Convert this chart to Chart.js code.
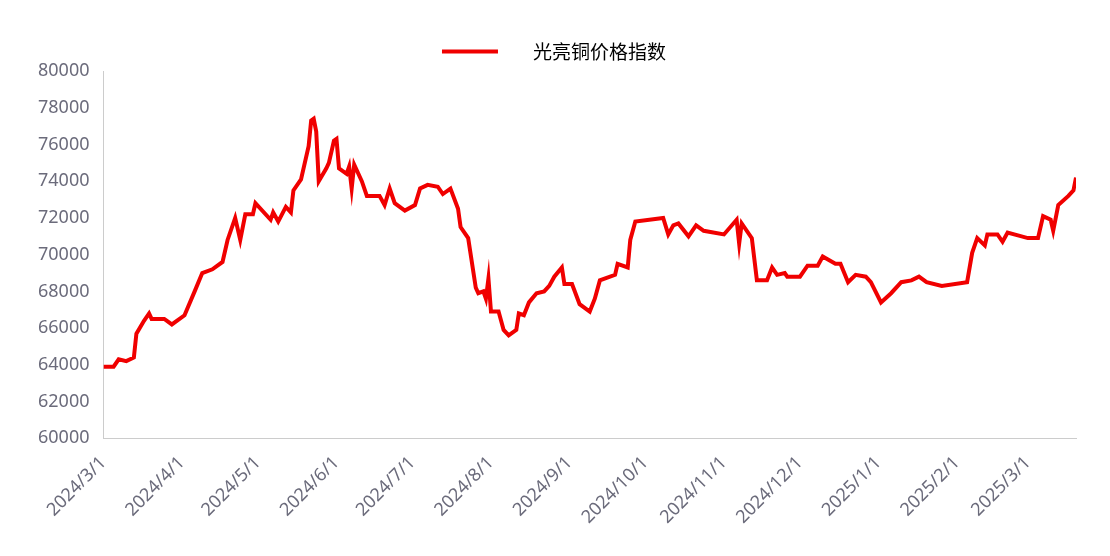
<!DOCTYPE html>
<html><head><meta charset="utf-8">
<script src="https://cdn.jsdelivr.net/npm/chart.js@4"></script>
<style>html,body{margin:0;background:#fff}#w{width:1110px;height:556px}</style>
</head><body><div id="w"><canvas id="c"></canvas></div>
<script>
const seriesName = "光亮铜价格指数";
const days = [0,4,6,9,12,13,16,18,19,24,27,32,36,39,43,47,49,52,54,56,59,60,66,67,69,72,74,75,78,81,82,83,84,85,88,89,91,92,93,96,97,98,99,102,104,109,111,113,115,119,123,125,128,132,134,137,140,141,144,147,148,150,151,152,153,156,158,160,163,164,166,168,171,174,176,178,181,182,185,188,192,194,196,202,203,207,208,210,221,223,225,227,231,234,237,245,250,251,252,256,258,262,264,266,269,270,275,278,282,284,289,291,294,297,301,303,307,311,315,319,322,325,331,341,343,345,348,349,353,355,357,365,369,371,374,375,377,381,383,384];
const values = [63900,63900,64300,64200,64400,65700,66400,66800,66500,66500,66200,66700,68000,69000,69200,69600,70800,72000,70800,72200,72200,72800,71900,72300,71800,72600,72300,73500,74100,75900,77300,77400,76700,74000,74700,75000,76200,76300,74700,74400,74800,73600,74900,74000,73200,73200,72700,73600,72800,72400,72700,73600,73800,73700,73300,73600,72500,71500,70900,68200,67900,68000,67600,68700,66900,66900,65900,65600,65900,66800,66700,67400,67900,68000,68300,68800,69300,68400,68400,67300,66900,67600,68600,68900,69500,69300,70800,71800,72000,71100,71600,71700,71000,71600,71300,71100,71900,70600,71700,70900,68600,68600,69300,68900,69000,68800,68800,69400,69400,69900,69500,69500,68500,68900,68800,68500,67400,67900,68500,68600,68800,68500,68300,68500,70100,70900,70500,71100,71100,70700,71200,70900,70900,72100,71900,71300,72700,73200,73500,74200];
const monthTicks = [0,31,61,92,122,153,184,214,245,275,306,337,365];
const monthLabels = ["2024/3/1","2024/4/1","2024/5/1","2024/6/1","2024/7/1","2024/8/1","2024/9/1","2024/10/1","2024/11/1","2024/12/1","2025/1/1","2025/2/1","2025/3/1"];
const yMin = 60000, yMax = 80000, yStep = 2000;

new Chart(document.getElementById('c'), {
  type: 'line',
  data: { datasets: [{ label: seriesName, data: days.map((d,i)=>({x:d,y:values[i]})),
    borderColor: '#f00000', backgroundColor: '#f00000', borderWidth: 4, pointRadius: 0, tension: 0 }] },
  options: {
    responsive: true, maintainAspectRatio: false, animation: false,
    layout: { padding: { left: 32, right: 34, top: 12, bottom: 22 } },
    plugins: { legend: { labels: { boxWidth: 56, boxHeight: 4, padding: 30, color: '#333', font: { size: 19, family: 'Noto Sans CJK SC' },
      generateLabels: (ch) => [{ text: '      ' + seriesName, fillStyle: '#f00000', strokeStyle: '#f00000', lineWidth: 0, datasetIndex: 0 }] } },
      tooltip: { enabled: false } },
    scales: {
      x: { type: 'linear', min: 0, max: 384,
        afterBuildTicks: (s) => { s.ticks = monthTicks.map(v => ({ value: v })); },
        ticks: { color: '#6b6b7b', font: { size: 18, family: 'Noto Sans' }, maxRotation: 45, minRotation: 45, autoSkip: false, padding: 6,
          callback: (v) => monthLabels[monthTicks.indexOf(v)] },
        grid: { display: false }, border: { color: '#ccc' } },
      y: { min: yMin, max: yMax,
        ticks: { stepSize: yStep, color: '#6b6b7b', font: { size: 18, family: 'Noto Sans' }, padding: 6, callback: (v) => String(v) },
        grid: { display: false }, border: { color: '#ccc' } }
    }
  }
});
</script></body></html>
